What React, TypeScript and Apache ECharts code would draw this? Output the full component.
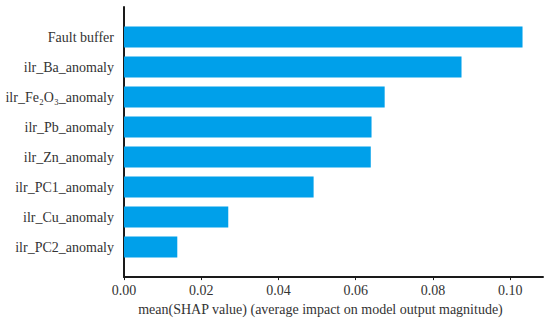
import React, { useEffect, useRef } from "react";
import * as echarts from "echarts";

// Features listed top to bottom as in the chart
const features = [
  "Fault buffer",
  "ilr_Ba_anomaly",
  "ilr_Fe₂O₃_anomaly",
  "ilr_Pb_anomaly",
  "ilr_Zn_anomaly",
  "ilr_PC1_anomaly",
  "ilr_Cu_anomaly",
  "ilr_PC2_anomaly",
];
const meanShap = [0.1032, 0.0874, 0.0675, 0.0641, 0.0639, 0.0491, 0.027, 0.0138];
const xTicks = [0, 0.02, 0.04, 0.06, 0.08, 0.1];

const FONT = "'Liberation Serif', 'Times New Roman', serif";

export default function App() {
  const ref = useRef<HTMLDivElement>(null);
  useEffect(() => {
    if (!ref.current) return;
    const chart = echarts.init(ref.current, undefined, { renderer: "svg" });
    // bottom-to-top order, padded with empty slots (like ylim(-1, n))
    const cats = ["", ...features.slice().reverse(), ""];
    const vals: (number | null)[] = [null, ...meanShap.slice().reverse(), null];
    chart.setOption({
      animation: false,
      backgroundColor: "#ffffff",
      grid: { left: 124, right: 7, top: 7, bottom: 40, containLabel: false },
      xAxis: {
        type: "value",
        min: xTicks[0],
        max: 0.1085,
        interval: 0.02,
        splitLine: { show: false },
        axisLine: { show: true, lineStyle: { color: "#1a1a1a", width: 2 } },
        axisTick: { show: true, length: 3, lineStyle: { color: "#1a1a1a" } },
        axisLabel: {
          showMaxLabel: false,
          color: "#333",
          fontFamily: FONT,
          fontSize: 14,
          margin: 6,
          formatter: (v: number) => v.toFixed(2),
        },
        name: "mean(SHAP value) (average impact on model output magnitude)",
        nameLocation: "middle",
        nameGap: 22,
        nameTextStyle: {
          color: "#333",
          fontFamily: FONT,
          fontSize: 14,
          padding: [0, 26, 0, 0],
        },
      },
      yAxis: {
        type: "category",
        data: cats,
        boundaryGap: false,
        axisLine: { show: true, lineStyle: { color: "#1a1a1a", width: 2 } },
        axisTick: { show: false },
        splitLine: { show: false },
        axisLabel: {
          color: "#333",
          fontFamily: FONT,
          fontSize: 14,
          margin: 10,
          interval: 0,
        },
      },
      series: [
        {
          type: "bar",
          data: vals,
          barWidth: 21,
          itemStyle: { color: "#00A0EA" },
        },
      ],
    });
    return () => chart.dispose();
  }, []);
  return (
    <div
      ref={ref}
      style={{ position: "fixed", left: 0, top: 0, width: 550, height: 321 }}
    />
  );
}
